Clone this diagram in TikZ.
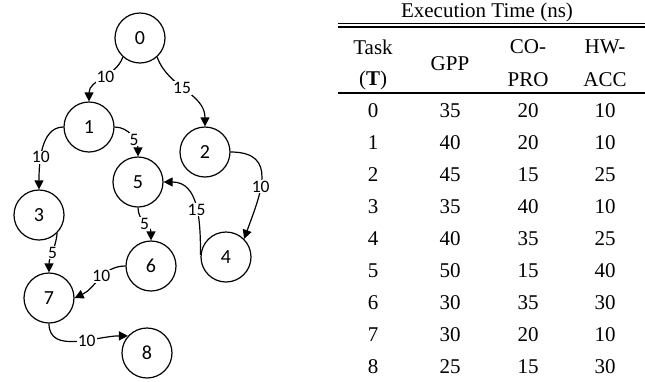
\documentclass[tikz,border=0pt]{standalone}
\usepackage{fontspec}
\setmainfont{Liberation Serif}
\newfontfamily\graphfont{Carlito}
\usetikzlibrary{arrows.meta}
\begin{document}
\begin{tikzpicture}[x=1pt,y=1pt,
  task/.style={circle,draw,line width=1.2pt,minimum size=50pt,inner sep=0pt,
    font=\graphfont\fontsize{20}{20}\selectfont},
  edge/.style={line width=1.2pt,-{Triangle[length=9pt,width=9pt]}},
  lbl/.style={fill=white,inner sep=1pt,font=\graphfont\fontsize{17.5}{17.5}\selectfont},
  cell/.style={font=\fontsize{21}{21}\selectfont,inner sep=0pt,anchor=center},
  rulex/.style={line width=1.6pt}]
\useasboundingbox (0,0) rectangle (645,-381);
% graph nodes
\node[task] (n0) at (140,-38) {0};
\node[task] (n1) at (89,-127) {1};
\node[task] (n2) at (205,-152) {2};
\node[task] (n5) at (138,-182) {5};
\node[task] (n3) at (39,-215) {3};
\node[task] (n6) at (151,-266) {6};
\node[task] (n4) at (226,-257) {4};
\node[task] (n7) at (49,-298) {7};
\node[task] (n8) at (147,-353) {8};
% edges
\draw[edge] (n0.228) to[out=-110,in=90] node[lbl,pos=0.45] {10} (n1.north);
\draw[edge] (n0.312) to[out=-70,in=90] node[lbl,pos=0.45] {15} (n2.north);
\draw[edge] (n1.west) to[out=180,in=90,looseness=0.9] node[lbl,pos=0.6] {10} (n3.north);
\draw[edge] (n1.east) to[out=0,in=90] node[lbl,pos=0.6] {5} (n5.north);
\draw[edge] (n2.east) to[out=0,in=70,looseness=1.4] node[lbl,pos=0.58] {10} (n4.45);
\draw[edge] (n4.175) to[out=90,in=0,looseness=1.1] node[lbl,pos=0.45] {15} (n5.east);
\draw[edge] (n5.south) to[out=-90,in=90] node[lbl,pos=0.5] {5} (n6.north);
\draw[edge] (n3.-45) to[out=-95,in=90] node[lbl,pos=0.5] {5} (n7.north);
\draw[edge] (n6.west) to[out=180,in=25] node[lbl,pos=0.45] {10} (n7.east);
\draw[edge] (n7.south) to[out=-90,in=180] node[lbl,pos=0.6] {10} (n8.138);
% table
\node[cell] (title) at (487,-12) {Execution Time (ns)};
\coordinate (rl) at (338,-23.3);
\coordinate (rr) at (645,-23.3);
\draw[rulex] (rl) -- (rr);
\coordinate (rl2) at (338,-26.9);
\coordinate (rr2) at (645,-26.9);
\draw[rulex] (rl2) -- (rr2);
\coordinate (rl3) at (338,-92.5);
\coordinate (rr3) at (645,-92.5);
\draw[line width=2pt] (rl3) -- (rr3);
\node[cell] (hT1) at (373,-47) {Task};
\node[cell] (hT2) at (373,-80) {(\textbf{T})};
\node[cell] (hG) at (450,-64) {GPP};
\node[cell] (hC1) at (528,-47) {CO-};
\node[cell] (hC2) at (528,-80) {PRO};
\node[cell] (hH1) at (605,-47) {HW-};
\node[cell] (hH2) at (605,-80) {ACC};
\foreach \t/\g/\c/\h [count=\i from 0] in {0/35/20/10,1/40/20/10,2/45/15/25,3/35/40/10,4/40/35/25,5/50/15/40,6/30/35/30,7/30/20/10,8/25/15/30}{
  \node[cell] (t\i) at (373,-111-32*\i) {\t};
  \node[cell] (g\i) at (450,-111-32*\i) {\g};
  \node[cell] (c\i) at (528,-111-32*\i) {\c};
  \node[cell] (h\i) at (605,-111-32*\i) {\h};
}
\end{tikzpicture}
\end{document}
